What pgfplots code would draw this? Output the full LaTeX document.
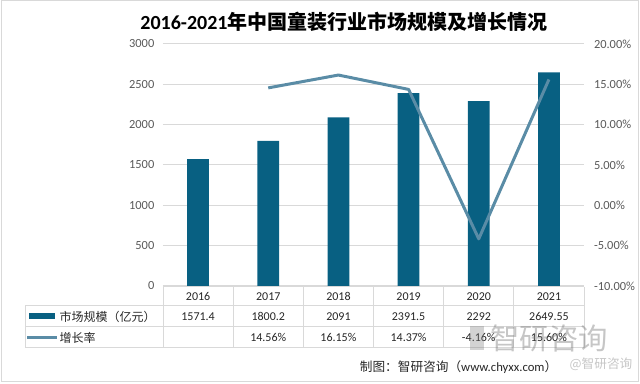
\documentclass[border=0pt]{standalone}
\usepackage{fontspec}
\setmainfont{Carlito}
\newfontfamily\cjk{Noto Sans CJK SC}
\usepackage{pgfplots}
\pgfplotsset{compat=1.18}
\definecolor{barc}{RGB}{8,96,130}
\definecolor{linec}{RGB}{90,140,166}
\definecolor{gridc}{RGB}{217,217,217}
\definecolor{txt}{RGB}{89,89,89}
\definecolor{ttxt}{RGB}{38,38,38}
\begin{document}
\begin{tikzpicture}
\path[use as bounding box] (0,0) rectangle (480pt,288pt);
\begin{axis}[at={(122.25pt,73.5pt)}, anchor=south west, scale only axis,
  width=315.75pt, height=181.5pt,
  xmin=-0.5, xmax=5.5, ymin=0, ymax=3000, ytick={0,500,...,3000}, xtick=\empty,
  ymajorgrids, grid style={gridc, line width=0.75pt},
  axis line style={draw=none}, major tick length=0pt,
  tick label style={font=\fontsize{9.3}{10}\selectfont, text=txt},
  /pgf/number format/assume math mode=true,
  /pgf/number format/1000 sep={},
  yticklabel style={xshift=-3pt}]
\addplot[ybar, bar width=0.31, fill=barc, draw=none] coordinates {(0,1571.4)(1,1800.2)(2,2091)(3,2391.5)(4,2292)(5,2649.55)};
\end{axis}
\begin{axis}[at={(122.25pt,73.5pt)}, anchor=south west, scale only axis,
  width=315.75pt, height=181.5pt,
  xmin=-0.5, xmax=5.5, ymin=-10, ymax=20, ytick={-10,-5,...,20}, xtick=\empty,
  yticklabel pos=right,
  axis line style={draw=none}, major tick length=0pt,
  tick label style={font=\fontsize{9.3}{10}\selectfont, text=txt},
  /pgf/number format/assume math mode=true,
  yticklabel={\pgfmathprintnumber[fixed,fixed zerofill,precision=2]{\tick}\%},
  yticklabel style={xshift=4pt}]
\addplot[linec, line width=2.25pt, line join=round, mark=none] coordinates {(1,14.56)(2,16.15)(3,14.37)(4,-4.16)(5,15.60)};
\end{axis}
\begin{scope}[yshift=288pt, x=0.75pt, y=-0.75pt]
\draw[gridc, line width=0.75pt] (1,1) rectangle (638,382);
\node[text=black] at (344,22) {\fontsize{15}{17}\selectfont\bfseries 2016-2021{\cjk 年中国童装行业市场规模及增长情况}};
% table
\begin{scope}[gridc, line width=0.75pt]
\draw (163,287) -- (584,287);
\draw (25,306) -- (584,306);
\draw (25,327) -- (584,327);
\draw (25,348) -- (584,348);
\draw (25,306) -- (25,348);
\foreach \xx in {163,233.17,303.33,373.5,443.67,513.83,584} {\draw (\xx,287) -- (\xx,348);}
\end{scope}
\begin{scope}[font=\fontsize{9}{10}\selectfont, text=ttxt]
\foreach \yr [count=\i from 0] in {2016,2017,2018,2019,2020,2021} {\node at (198.08+70.17*\i,296.5) {\yr};}
\foreach \v [count=\i from 0] in {1571.4,1800.2,2091,2391.5,2292,2649.55} {\node at (198.08+70.17*\i,316.5) {\v};}
\foreach \v [count=\i from 1] in {14.56\%,16.15\%,14.37\%,-4.16\%,15.60\%} {\node at (198.08+70.17*\i,337.5) {\v};}
\fill[barc] (29,313) rectangle (55,319.5);
\draw[linec, line width=2.25pt] (27,337.5) -- (57,337.5);
\node[anchor=west, inner sep=1pt] at (58,316.5) {\cjk 市场规模（亿元）};
\node[anchor=west, inner sep=1pt] at (58,337.5) {\cjk 增长率};
\end{scope}
% watermark
\node[text=gray, opacity=0.45] at (549,338) {\cjk\fontsize{22}{22}\selectfont 智研咨询};
\fill[gray, opacity=0.35] (470,326) rectangle (484,350);
% footer
\node[anchor=east, text=ttxt] at (562,367) {\fontsize{9.5}{10}\selectfont{\cjk 制图：智研咨询（}www.chyxx.com{\cjk ）}};
\node[anchor=west, text=gray, opacity=0.45] at (565,364) {\fontsize{9.5}{10}\selectfont{\cjk @智研咨询}};
\end{scope}
\end{tikzpicture}
\end{document}
